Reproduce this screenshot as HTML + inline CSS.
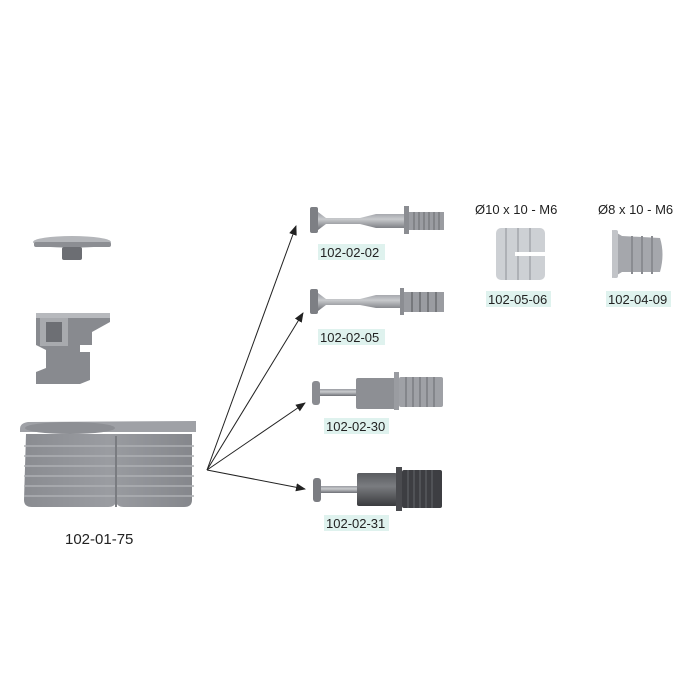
<!DOCTYPE html>
<html><head><meta charset="utf-8"><style>
html,body{margin:0;padding:0;background:#fff}
svg{display:block}
text{font-family:"Liberation Sans",sans-serif;fill:#222}
</style></head><body>
<svg width="700" height="700" viewBox="0 0 700 700" xmlns="http://www.w3.org/2000/svg">
<defs>
<linearGradient id="g1" x1="0" y1="0" x2="0" y2="1">
<stop offset="0" stop-color="#9a9ca2"/><stop offset="0.4" stop-color="#c8cacd"/><stop offset="1" stop-color="#6e7076"/></linearGradient>
<linearGradient id="g2" x1="0" y1="0" x2="0" y2="1">
<stop offset="0" stop-color="#5a5c60"/><stop offset="0.4" stop-color="#7a7c80"/><stop offset="1" stop-color="#3a3b3e"/></linearGradient>
<linearGradient id="gb" x1="0" y1="0" x2="1" y2="0">
<stop offset="0" stop-color="#8a8c91"/><stop offset="0.5" stop-color="#9a9ca1"/><stop offset="1" stop-color="#85878c"/></linearGradient>
<marker id="ah" markerWidth="10" markerHeight="8" refX="9" refY="4" orient="auto" markerUnits="userSpaceOnUse">
<path d="M0,0 L10,4 L0,8 z" fill="#222"/></marker>
</defs>

<!-- cap -->
<ellipse cx="72" cy="242" rx="39" ry="6" fill="#b4b6ba"/>
<rect x="34" y="242" width="77" height="5" rx="2" fill="#8c8e93"/>
<rect x="62" y="247" width="20" height="13" rx="2" fill="#6c6e73"/>

<!-- cam housing -->
<path d="M36,313 L110,313 L110,322 L92,332 L92,345 L80,345 L80,352 L90,352 L90,380 L80,384 L36,384 L36,372 L46,368 L46,350 L36,345 Z" fill="#888a8f"/>
<rect x="40" y="318" width="28" height="28" fill="#a8aaae"/>
<rect x="46" y="322" width="16" height="20" fill="#6d6f74"/>
<rect x="36" y="313" width="74" height="5" fill="#b7b9bd"/>

<!-- bushing -->
<path d="M26,434 L192,434 L192,500 Q192,507 184,507 L124,507 Q116,507 116,500 Q116,507 108,507 L32,507 Q24,507 24,500 Z" fill="url(#gb)"/>
<path d="M20,429 Q20,423 28,422 L196,421 L196,432 L20,432 Z" fill="#9fa1a6"/>
<ellipse cx="70" cy="428" rx="45" ry="6" fill="#8d8f94"/>
<g stroke="#aeb0b4" stroke-width="1.5">
<line x1="24" y1="446" x2="194" y2="446"/><line x1="24" y1="456" x2="194" y2="456"/>
<line x1="24" y1="466" x2="194" y2="466"/><line x1="24" y1="476" x2="194" y2="476"/>
<line x1="24" y1="486" x2="194" y2="486"/><line x1="24" y1="496" x2="194" y2="496"/>
</g>
<line x1="116" y1="436" x2="116" y2="507" stroke="#7a7c81" stroke-width="2"/>
<text x="65" y="544" font-size="15">102-01-75</text>

<!-- arrows -->
<g stroke="#222" stroke-width="1" fill="none" marker-end="url(#ah)">
<line x1="207" y1="470" x2="296" y2="226"/>
<line x1="207" y1="470" x2="303" y2="313"/>
<line x1="207" y1="470" x2="305" y2="403"/>
<line x1="207" y1="470" x2="305" y2="489"/>
</g>

<!-- bolt 1 -->
<g>
<rect x="310" y="207" width="8" height="26" rx="2" fill="#7d7f84"/>
<path d="M318,212 L326,218 L360,218 L376,214 L404,214 L404,228 L376,228 L360,224 L326,224 L318,230 Z" fill="url(#g1)"/>
<rect x="404" y="206" width="5" height="28" fill="#8b8d92"/>
<rect x="409" y="212" width="35" height="18" fill="#9a9ca1"/>
<g stroke="#6a6c70" stroke-width="1"><line x1="414" y1="212" x2="414" y2="230"/><line x1="419" y1="212" x2="419" y2="230"/><line x1="424" y1="212" x2="424" y2="230"/><line x1="429" y1="212" x2="429" y2="230"/><line x1="434" y1="212" x2="434" y2="230"/><line x1="439" y1="212" x2="439" y2="230"/></g>
</g>
<rect x="318" y="244" width="67" height="16" fill="#dff2ee"/>
<text x="320" y="257" font-size="13">102-02-02</text>

<!-- bolt 2 -->
<g>
<rect x="310" y="289" width="8" height="25" rx="2" fill="#7d7f84"/>
<path d="M318,293 L326,299 L360,299 L376,295 L400,295 L400,308 L376,308 L360,305 L326,305 L318,311 Z" fill="url(#g1)"/>
<rect x="400" y="288" width="4" height="27" fill="#8b8d92"/>
<rect x="404" y="292" width="40" height="20" fill="#9a9ca1"/>
<g stroke="#6a6c70" stroke-width="1.5"><line x1="412" y1="292" x2="412" y2="312"/><line x1="420" y1="292" x2="420" y2="312"/><line x1="428" y1="292" x2="428" y2="312"/><line x1="436" y1="292" x2="436" y2="312"/></g>
</g>
<rect x="318" y="329" width="67" height="16" fill="#dff2ee"/>
<text x="320" y="342" font-size="13">102-02-05</text>

<!-- bolt 3 -->
<g>
<rect x="312" y="381" width="8" height="24" rx="3" fill="#8a8c91"/>
<rect x="320" y="389" width="40" height="7" fill="url(#g1)"/>
<rect x="356" y="378" width="40" height="31" rx="2" fill="#8d8f94"/>
<rect x="394" y="372" width="5" height="38" fill="#9a9ca1"/>
<rect x="399" y="377" width="44" height="30" rx="2" fill="#9fa1a6"/>
<g stroke="#7b7d82" stroke-width="1.5"><line x1="406" y1="377" x2="406" y2="407"/><line x1="413" y1="377" x2="413" y2="407"/><line x1="420" y1="377" x2="420" y2="407"/><line x1="427" y1="377" x2="427" y2="407"/><line x1="434" y1="377" x2="434" y2="407"/></g>
</g>
<rect x="324" y="418" width="65" height="16" fill="#dff2ee"/>
<text x="326" y="431" font-size="13">102-02-30</text>

<!-- bolt 4 -->
<g>
<rect x="313" y="478" width="8" height="24" rx="3" fill="#7b7d82"/>
<rect x="321" y="486" width="40" height="7" fill="url(#g1)"/>
<rect x="357" y="473" width="40" height="33" rx="2" fill="url(#g2)"/>
<rect x="396" y="467" width="6" height="44" fill="#4a4b4f"/>
<rect x="402" y="470" width="40" height="38" rx="2" fill="#3d3e42"/>
<g stroke="#56585c" stroke-width="1.5"><line x1="408" y1="470" x2="408" y2="508"/><line x1="414" y1="470" x2="414" y2="508"/><line x1="420" y1="470" x2="420" y2="508"/><line x1="426" y1="470" x2="426" y2="508"/><line x1="432" y1="470" x2="432" y2="508"/></g>
</g>
<rect x="324" y="515" width="65" height="16" fill="#dff2ee"/>
<text x="326" y="528" font-size="13">102-02-31</text>

<!-- right inserts -->
<text x="475" y="214" font-size="13">Ø10 x 10 - M6</text>
<text x="598" y="214" font-size="13">Ø8 x 10 - M6</text>

<rect x="496" y="228" width="49" height="52" rx="5" fill="#cdd0d4"/>
<g stroke="#aeb1b6" stroke-width="2"><line x1="506" y1="228" x2="506" y2="280"/><line x1="518" y1="228" x2="518" y2="280"/><line x1="530" y1="228" x2="530" y2="280"/></g>
<rect x="515" y="252" width="30" height="4" fill="#fff"/>
<rect x="486" y="291" width="65" height="16" fill="#dff2ee"/>
<text x="488" y="304" font-size="13">102-05-06</text>

<path d="M612,230 L622,236 L660,238 Q665,254 660,272 L622,272 L612,278 Z" fill="#a5a7ac"/>
<rect x="612" y="230" width="6" height="48" rx="2" fill="#c2c4c8"/>
<g stroke="#8a8c91" stroke-width="2"><line x1="632" y1="236" x2="632" y2="274"/><line x1="642" y1="236" x2="642" y2="274"/><line x1="652" y1="236" x2="652" y2="274"/></g>
<rect x="606" y="291" width="65" height="16" fill="#dff2ee"/>
<text x="608" y="304" font-size="13">102-04-09</text>
</svg>
</body></html>
